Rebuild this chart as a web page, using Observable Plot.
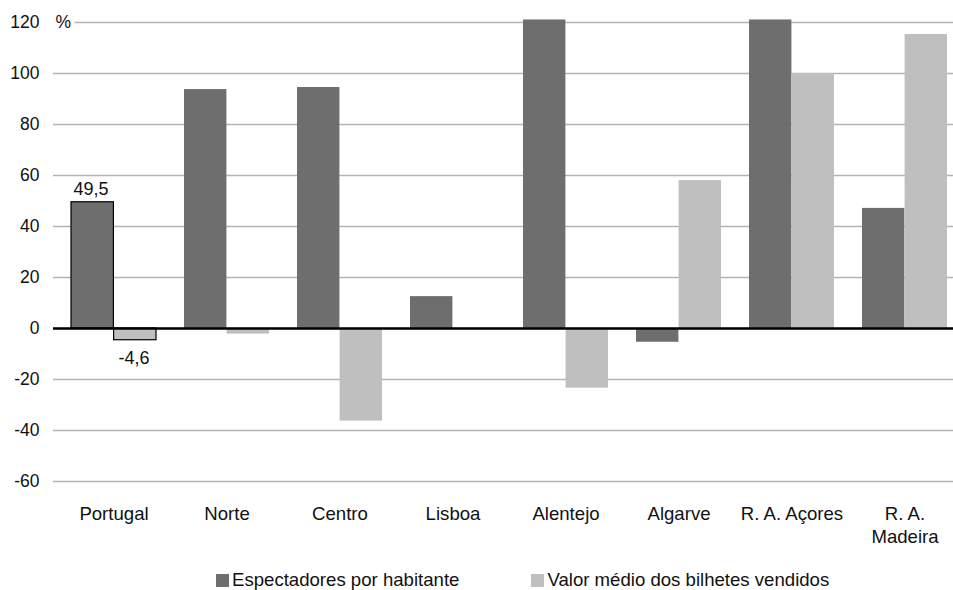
<!DOCTYPE html>
<html>
<head>
<meta charset="utf-8">
<script src="https://cdn.jsdelivr.net/npm/d3@7"></script>
<script src="https://cdn.jsdelivr.net/npm/@observablehq/plot@0.6"></script>
<style>
  html, body { margin: 0; padding: 0; background: #fff; }
  body { width: 953px; height: 590px; overflow: hidden; font-family: "Liberation Sans", Arial, sans-serif; }
  #chart svg { display: block; }
  #legend { display: flex; align-items: center; height: 22px; padding-top: 13px; padding-left: 216px; font-size: 18.6px; color: #111; }
  #legend .sw { width: 13px; height: 13px; margin-right: 3px; display: inline-block; }
  #legend .item { display: flex; align-items: center; }
</style>
</head>
<body>
<div id="chart"></div>
<div id="legend"></div>
<script>
const regions = ["Portugal", "Norte", "Centro", "Lisboa", "Alentejo", "Algarve", "R. A. Açores", "R. A.\nMadeira"];
const espectadores = [49.5, 93.7, 94.5, 12.5, 121, -5.4, 121, 47.1];
const valorMedio = [-4.6, -2.2, -36.3, 0, -23.4, 58.0, 100, 115.3];
const seriesNames = ["Espectadores por habitante", "Valor médio dos bilhetes vendidos"];
const seriesColors = ["#6e6e6e", "#bfbfbf"];
const yTicks = [-60, -40, -20, 0, 20, 40, 60, 80, 100, 120];
const labelledRegion = "Portugal";

const dark = regions.map((r, i) => ({region: r, value: espectadores[i]}));
const light = regions.map((r, i) => ({region: r, value: valorMedio[i]}));
const fmt = v => String(v).replace(".", ",");
const half = 42.6;

const chart = Plot.plot({
  width: 953,
  height: 556,
  marginLeft: 53,
  marginRight: -11,
  marginTop: 22,
  marginBottom: 75,
  style: {fontFamily: "Liberation Sans, Arial, sans-serif", fontSize: "17px", color: "#111", background: "white"},
  x: {domain: regions, paddingInner: 0.25, paddingOuter: 0.125, label: null},
  y: {domain: [-60, 120], label: null},
  marks: [
    Plot.gridY(yTicks, {stroke: "#b3b3b3", strokeOpacity: 1, strokeWidth: 1.5}),
    Plot.barY(dark, {x: "region", y: "value", fill: seriesColors[0], insetRight: half}),
    Plot.barY(light, {x: "region", y: "value", fill: seriesColors[1], insetLeft: half}),
    Plot.barY(dark.filter(d => d.region === labelledRegion), {x: "region", y: "value", fill: "none", stroke: "#000", strokeWidth: 1.2, insetRight: half}),
    Plot.barY(light.filter(d => d.region === labelledRegion), {x: "region", y: "value", fill: "none", stroke: "#000", strokeWidth: 1.2, insetLeft: half}),
    Plot.ruleY([0], {stroke: "#000", strokeWidth: 2.5}),
    Plot.text(dark.filter(d => d.region === labelledRegion), {x: "region", y: "value", text: d => fmt(d.value), dx: -23, dy: -13, fontSize: 18, fill: "#111"}),
    Plot.text(light.filter(d => d.region === labelledRegion), {x: "region", y: "value", text: d => fmt(d.value), dx: 20, dy: 18, fontSize: 18, fill: "#111"}),
    Plot.axisY({ticks: yTicks, tickSize: 0, tickPadding: 14, tickFormat: d => String(d), fontSize: 17.5, label: null}),
    Plot.axisX({tickSize: 0, tickPadding: 22, fontSize: 18.6, lineHeight: 1.25, label: null}),
    Plot.text(["%"], {frameAnchor: "top-left", dx: 2, textAnchor: "start", lineAnchor: "middle", fontSize: 17.5, fill: "#111", stroke: "white", strokeWidth: 8})
  ]
});
document.getElementById("chart").append(chart);

const legend = document.getElementById("legend");
seriesNames.forEach((name, i) => {
  const item = document.createElement("span");
  item.className = "item";
  if (i > 0) item.style.marginLeft = "72px";
  const sw = document.createElement("span");
  sw.className = "sw";
  sw.style.background = seriesColors[i];
  item.append(sw, document.createTextNode(name));
  legend.append(item);
});
</script>
</body>
</html>
